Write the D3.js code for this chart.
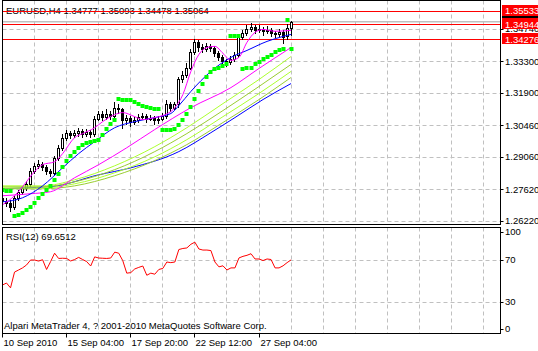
<!DOCTYPE html>
<html>
<head>
<meta charset="utf-8">
<script src="https://cdn.jsdelivr.net/npm/d3@7"></script>
<style>
    body { margin: 0; background: #fff; }
    svg { display: block; font-family: "Liberation Sans", Arial, sans-serif; font-size: 9.5px; }
</style>
</head>
<body>
<svg id="grafico" width="538" height="351"></svg>
<script>
//Velas EURUSD H4 (apertura, maximo, minimo, cierre)
var aperturas = [1.2725, 1.2712, 1.2703, 1.2685, 1.2725, 1.2752, 1.2769, 1.2787, 1.2845, 1.2867,
    1.2876, 1.2863, 1.2845, 1.2836, 1.2903, 1.2947, 1.2992, 1.3014, 1.3005, 1.3014,
    1.3023, 1.3010, 1.3019, 1.3010, 1.3076, 1.3099, 1.3085, 1.3099, 1.3090, 1.3125,
    1.3117, 1.3068, 1.3081, 1.3063, 1.3072, 1.3085, 1.3090, 1.3076, 1.3081, 1.3068,
    1.3076, 1.3090, 1.3143, 1.3125, 1.3139, 1.3250, 1.3268, 1.3303, 1.3370, 1.3415,
    1.3392, 1.3384, 1.3397, 1.3388, 1.3366, 1.3348, 1.3330, 1.3326, 1.3339, 1.3357,
    1.3437, 1.3455, 1.3472, 1.3481, 1.3468, 1.3472, 1.3464, 1.3468, 1.3455, 1.3450,
    1.3459, 1.3441, 1.34777];
var maximos = [1.2738, 1.2725, 1.2716, 1.2734, 1.2760, 1.2778, 1.2801, 1.2858, 1.2881, 1.2894,
    1.2885, 1.2872, 1.2854, 1.2912, 1.2961, 1.3010, 1.3028, 1.3023, 1.3028, 1.3036,
    1.3032, 1.3032, 1.3028, 1.3090, 1.3112, 1.3108, 1.3117, 1.3108, 1.3148, 1.3139,
    1.3125, 1.3094, 1.3090, 1.3085, 1.3099, 1.3103, 1.3099, 1.3094, 1.3090, 1.3090,
    1.3103, 1.3157, 1.3152, 1.3152, 1.3263, 1.3286, 1.3321, 1.3384, 1.3428, 1.3424,
    1.3406, 1.3410, 1.3406, 1.3397, 1.3375, 1.3357, 1.3339, 1.3352, 1.3370, 1.3446,
    1.3468, 1.3490, 1.3499, 1.3490, 1.3490, 1.3481, 1.3486, 1.3477, 1.3464, 1.3472,
    1.3468, 1.3495, 1.35093];
var minimos = [1.2698, 1.2689, 1.2667, 1.2676, 1.2716, 1.2743, 1.2760, 1.2778, 1.2836, 1.2858,
    1.2850, 1.2832, 1.2823, 1.2827, 1.2894, 1.2939, 1.2983, 1.2992, 1.2996, 1.3001,
    1.2996, 1.3001, 1.2996, 1.3001, 1.3068, 1.3072, 1.3076, 1.3076, 1.3081, 1.3103,
    1.3036, 1.3054, 1.3045, 1.3054, 1.3063, 1.3076, 1.3063, 1.3068, 1.3054, 1.3059,
    1.3068, 1.3081, 1.3112, 1.3117, 1.3130, 1.3241, 1.3259, 1.3295, 1.3361, 1.3375,
    1.3370, 1.3375, 1.3375, 1.3352, 1.3335, 1.3312, 1.3312, 1.3317, 1.3330, 1.3348,
    1.3428, 1.3446, 1.3464, 1.3455, 1.3459, 1.3446, 1.3455, 1.3441, 1.3437, 1.3441,
    1.3410, 1.3428, 1.34478];
var cierres = [1.2712, 1.2703, 1.2685, 1.2725, 1.2752, 1.2769, 1.2787, 1.2845, 1.2867, 1.2876,
    1.2863, 1.2845, 1.2836, 1.2903, 1.2947, 1.2992, 1.3014, 1.3005, 1.3014, 1.3023,
    1.3010, 1.3019, 1.3010, 1.3076, 1.3099, 1.3085, 1.3099, 1.3090, 1.3125, 1.3117,
    1.3068, 1.3081, 1.3063, 1.3072, 1.3085, 1.3090, 1.3076, 1.3081, 1.3068, 1.3076,
    1.3090, 1.3143, 1.3125, 1.3139, 1.3250, 1.3268, 1.3303, 1.3370, 1.3415, 1.3392,
    1.3384, 1.3397, 1.3388, 1.3366, 1.3348, 1.3330, 1.3326, 1.3339, 1.3357, 1.3437,
    1.3455, 1.3472, 1.3481, 1.3468, 1.3472, 1.3464, 1.3468, 1.3455, 1.3450, 1.3459,
    1.3437, 1.3477, 1.35064];

//Parabolic SAR (puntos verdes)
var sar = [1.2760, 1.2756, 1.2756, 1.2645, 1.2649, 1.2658, 1.2672, 1.2685, 1.2703, 1.2725,
    1.2743, 1.2760, 1.2778, 1.2805, 1.2832, 1.2863, 1.2890, 1.2912, 1.2930, 1.2947,
    1.2961, 1.2970, 1.2974, 1.2979, 1.2983, 1.3005, 1.3032, 1.3054, 1.3072, 1.3165,
    1.3161, 1.3161, 1.3157, 1.3148, 1.3139, 1.3134, 1.3130, 1.3125, 1.3121, 1.3117,
    1.3028, 1.3028, 1.3028, 1.3032, 1.3050, 1.3072, 1.3099, 1.3130, 1.3165, 1.3201,
    1.3232, 1.3259, 1.3281, 1.3295, 1.3303, 1.3312, 1.3317, 1.3441, 1.3441, 1.3441,
    1.3295, 1.3299, 1.3303, 1.3317, 1.3326, 1.3339, 1.3348, 1.3357, 1.3370, 1.3379,
    1.3384, 1.3513, 1.3384];

//RSI(12)
var rsi = [45.7, 47.6, 43, 58, 60, 62, 64.8, 69.5, 69.5, 68.5,
    69.8, 60.5, 68, 76, 71, 71.2, 71, 68.6, 70, 72,
    70, 68, 63.8, 72.5, 71.4, 71.2, 71, 71.4, 77, 76,
    69, 57, 57.5, 61, 62.5, 63.8, 55, 57, 56, 60.5,
    61.5, 67.6, 67, 67.6, 79.5, 80.5, 81, 84.5, 86.5, 80,
    79, 79, 78.5, 67.6, 63, 64, 60, 62, 62, 71.5,
    73, 74, 75.5, 70.5, 70.5, 69, 70.5, 70, 62, 62,
    64, 67, 69.65];

//Medias moviles (indice de barra y valor)
var barrasMagentaRapida = [0, 3, 5, 8, 10, 13, 15, 18, 20, 23, 25, 28, 30, 33, 35, 38, 40, 43, 45, 47, 49, 51, 53, 55, 57, 59, 61, 63, 65, 68, 72];
var magentaRapida = [1.2694, 1.2734, 1.2774, 1.2841, 1.2872, 1.2885, 1.2921, 1.2992, 1.3010, 1.3036, 1.3063, 1.3094, 1.3103, 1.3085, 1.3072, 1.3081, 1.3090, 1.3125, 1.3183, 1.3286, 1.3361, 1.3392, 1.3397, 1.3366, 1.3335, 1.3348, 1.3415, 1.3459, 1.3472, 1.3464, 1.3468];
var barrasAzulRapida = [0, 5, 10, 15, 19, 23, 28, 33, 38, 42, 44, 47, 52, 57, 61, 66, 70, 72];
var azulRapida = [1.2707, 1.2725, 1.2778, 1.2858, 1.2921, 1.2974, 1.3036, 1.3063, 1.3081, 1.3099, 1.3134, 1.3197, 1.3286, 1.3348, 1.3379, 1.3419, 1.3441, 1.3450];
var barrasMagentaLenta = [0, 7, 12, 18, 24, 31, 38, 47, 57, 64, 72];
var magentaLenta = [1.2734, 1.2743, 1.2752, 1.2814, 1.2872, 1.2947, 1.3028, 1.3125, 1.3214, 1.3299, 1.3392];
var barrasAzulLenta = [0, 5, 12, 24, 32, 44, 52, 58, 65, 72];
var azulLenta = [1.2765, 1.2769, 1.2774, 1.2827, 1.2858, 1.2930, 1.3014, 1.3081, 1.3161, 1.3232];
var barrasCinta = [0, 10, 18, 28, 38, 46, 55, 64, 72];
var cinta1 = [1.2778, 1.2778, 1.2805, 1.2867, 1.2952, 1.3036, 1.3143, 1.3250, 1.3352];
var cinta2 = [1.2774, 1.2774, 1.2796, 1.2850, 1.2930, 1.3010, 1.3112, 1.3219, 1.3317];
var cinta3 = [1.2769, 1.2769, 1.2787, 1.2836, 1.2907, 1.2983, 1.3085, 1.3188, 1.3286];
var cinta4 = [1.2765, 1.2765, 1.2778, 1.2823, 1.2890, 1.2961, 1.3059, 1.3161, 1.3259];

//Etiquetas y niveles
var titulo = "EURUSD,H4  1.34777 1.35093 1.34478 1.35064";
var preciosEje = [1.34740, 1.33300, 1.31900, 1.30460, 1.29060, 1.27620, 1.26220];
var nivelesRojos = [1.35533, 1.34944, 1.34276];
var precioBid = 1.35064;
var barrasFechas = [0, 16, 32, 48, 64];
var etiquetasFechas = ["10 Sep 2010", "15 Sep 04:00", "17 Sep 20:00", "22 Sep 12:00", "27 Sep 04:00"];
var nivelesRsi = [100, 70, 30, 0];
var tituloRsi = "RSI(12) 69.6512";
var copyright = "Alpari MetaTrader 4, ? 2001-2010 MetaQuotes Software Corp.";

//Escalas
var x = d3.scaleLinear().domain([0, 124]).range([2, 499]);
var y = d3.scaleLinear().domain([1.26220, 1.34740]).range([221, 29]);
var yRsi = d3.scaleLinear().domain([0, 100]).range([333, 228]);
function px(i) { return Math.round(x(i)) + 0.5; }
function py(v) { return Math.round(y(v)) + 0.5; }

var svg = d3.select("#grafico");
var izq = 2.5, der = 500.5, arribaP = 0.5, abajoP = 224.5, arribaR = 227.5, abajoR = 333.5;

svg.append("defs").append("clipPath").attr("id", "clipPrincipal")
    .append("rect").attr("x", 3).attr("y", 1).attr("width", 497).attr("height", 223);
svg.append("defs").append("clipPath").attr("id", "clipRsi")
    .append("rect").attr("x", 3).attr("y", 228).attr("width", 497).attr("height", 105);

var barrasGrid = d3.range(8, 125, 8);

//Rejilla ventana principal
var principal = svg.append("g").attr("clip-path", "url(#clipPrincipal)");
principal.selectAll(".gv").data(barrasGrid).join("line")
    .attr("x1", px).attr("x2", px).attr("y1", arribaP).attr("y2", abajoP)
    .attr("stroke", "#c0c0c0").attr("stroke-dasharray", "4,3");
principal.selectAll(".gh").data(preciosEje).join("line")
    .attr("x1", izq).attr("x2", der).attr("y1", py).attr("y2", py)
    .attr("stroke", "#c0c0c0").attr("stroke-dasharray", "4,3");

//Titulo
principal.append("text").attr("x", 6).attr("y", 14).text(titulo).style("fill", "black");

//Linea bid y niveles rojos
principal.append("line").attr("x1", izq).attr("x2", der).attr("y1", y(precioBid)).attr("y2", y(precioBid))
    .attr("stroke", "#c0c0c0").attr("stroke-width", 1.5);
principal.selectAll(".rojo").data(nivelesRojos).join("line")
    .attr("x1", izq).attr("x2", der).attr("y1", py).attr("y2", py)
    .attr("stroke", "#ff0000");

//Velas
var indices = d3.range(aperturas.length);
var velas = principal.append("g");
velas.selectAll("line").data(indices).join("line")
    .attr("x1", px).attr("x2", px)
    .attr("y1", function (i) { return Math.round(y(maximos[i])); })
    .attr("y2", function (i) { return Math.round(y(minimos[i])) + 1; })
    .attr("stroke", "black");
velas.selectAll("rect").data(indices).join("rect")
    .attr("x", function (i) { return px(i) - 1; })
    .attr("width", 2)
    .attr("y", function (i) { return py(Math.max(aperturas[i], cierres[i])); })
    .attr("height", function (i) { return Math.max(0.01, py(Math.min(aperturas[i], cierres[i])) - py(Math.max(aperturas[i], cierres[i]))); })
    .style("fill", function (i) { return cierres[i] >= aperturas[i] ? "white" : "black"; })
    .style("stroke", "black");

//Medias moviles
function dibujarLinea(barras, valores, color) {
    var puntos = barras.map(function (b, k) { return [b, valores[k]]; });
    principal.append("path")
        .attr("d", d3.line().x(function (d) { return x(d[0]) + 0.5; }).y(function (d) { return y(d[1]); }).curve(d3.curveMonotoneX)(puntos))
        .attr("fill", "none").attr("stroke", color).attr("stroke-width", 1);
}
dibujarLinea(barrasAzulLenta, azulLenta, "#0000ff");
dibujarLinea(barrasCinta, cinta4, "#9acd32");
dibujarLinea(barrasCinta, cinta3, "#adff2f");
dibujarLinea(barrasCinta, cinta2, "#9acd32");
dibujarLinea(barrasCinta, cinta1, "#adff2f");
dibujarLinea(barrasMagentaLenta, magentaLenta, "#ff00ff");
dibujarLinea(barrasAzulRapida, azulRapida, "#0000ff");
dibujarLinea(barrasMagentaRapida, magentaRapida, "#ff00ff");

//Parabolic SAR
principal.selectAll(".sar").data(indices).join("rect")
    .attr("x", function (i) { return px(i) - 2; })
    .attr("y", function (i) { return Math.round(y(sar[i])) - 2; })
    .attr("width", 4).attr("height", 4)
    .style("fill", "#00ff00");

//Marco principal
svg.append("rect").attr("x", izq).attr("y", arribaP).attr("width", der - izq).attr("height", abajoP - arribaP)
    .attr("fill", "none").attr("stroke", "black");

//Eje de precios
var ejeP = svg.append("g");
ejeP.selectAll("line").data(preciosEje).join("line")
    .attr("x1", der).attr("x2", der + 3).attr("y1", py).attr("y2", py).attr("stroke", "black");
ejeP.selectAll("text").data(preciosEje).join("text")
    .attr("x", 505).attr("y", function (d) { return y(d); }).attr("dy", "0.35em")
    .text(function (d) { return d.toFixed(5); });

//Caja bid (negra, tapada casi entera) y niveles (rojas)
svg.append("rect").attr("x", 502).attr("y", Math.round(y(precioBid)) - 6).attr("width", 36).attr("height", 11).attr("fill", "black");
var etiquetasRojas = svg.selectAll(".etRoja").data(nivelesRojos).join("g");
etiquetasRojas.append("rect")
    .attr("x", 502).attr("y", function (d) { return Math.round(y(d)) - 6; })
    .attr("width", 36).attr("height", 11).attr("fill", "#ff0000");
etiquetasRojas.append("text")
    .attr("x", 505).attr("y", function (d) { return y(d); }).attr("dy", "0.35em")
    .attr("fill", "white").text(function (d) { return d.toFixed(5); });

//Ventana RSI
var ventanaRsi = svg.append("g").attr("clip-path", "url(#clipRsi)");
ventanaRsi.selectAll(".gv").data(barrasGrid).join("line")
    .attr("x1", px).attr("x2", px).attr("y1", arribaR).attr("y2", abajoR)
    .attr("stroke", "#c0c0c0").attr("stroke-dasharray", "4,3");
ventanaRsi.selectAll(".gh").data([70, 30]).join("line")
    .attr("x1", izq).attr("x2", der)
    .attr("y1", function (d) { return Math.round(yRsi(d)) + 0.5; })
    .attr("y2", function (d) { return Math.round(yRsi(d)) + 0.5; })
    .attr("stroke", "#c0c0c0").attr("stroke-dasharray", "4,3");
ventanaRsi.append("path")
    .attr("d", d3.line().x(function (i) { return x(i) + 0.5; }).y(function (i) { return yRsi(rsi[i]); })(indices))
    .attr("fill", "none").attr("stroke", "#ff0000");
ventanaRsi.append("text").attr("x", 6).attr("y", 240).text(tituloRsi);
ventanaRsi.append("text").attr("x", 4).attr("y", 329).text(copyright);
svg.append("rect").attr("x", izq).attr("y", arribaR).attr("width", der - izq).attr("height", abajoR - arribaR)
    .attr("fill", "none").attr("stroke", "black");

//Eje RSI
var ejeR = svg.append("g");
ejeR.selectAll("line").data(nivelesRsi).join("line")
    .attr("x1", der).attr("x2", der + 3)
    .attr("y1", function (d) { return Math.round(Math.min(329, Math.max(232, yRsi(d)))) + 0.5; })
    .attr("y2", function (d) { return Math.round(Math.min(329, Math.max(232, yRsi(d)))) + 0.5; })
    .attr("stroke", "black");
ejeR.selectAll("text").data(nivelesRsi).join("text")
    .attr("x", 505).attr("y", function (d) { return Math.min(329, Math.max(232, yRsi(d))); }).attr("dy", "0.35em")
    .text(function (d) { return d; });

//Eje de fechas
var ejeF = svg.append("g");
ejeF.selectAll("line").data(barrasFechas).join("line")
    .attr("x1", px).attr("x2", px).attr("y1", abajoR).attr("y2", abajoR + 4).attr("stroke", "black");
ejeF.selectAll("text").data(barrasFechas).join("text")
    .attr("x", function (b) { return px(b) + 1; }).attr("y", 346)
    .text(function (b, k) { return etiquetasFechas[k]; });
</script>
</body>
</html>
